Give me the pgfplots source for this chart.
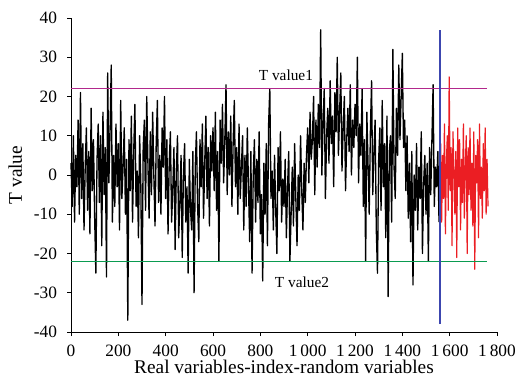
\documentclass[border=0pt]{standalone}
\usepackage{fontspec}
\setmainfont{Liberation Serif}
\usepackage{pgfplots}
\pgfplotsset{compat=1.18}
\definecolor{tpurple}{RGB}{178,40,140}
\definecolor{tgreen}{RGB}{10,155,80}
\definecolor{tblue}{RGB}{60,70,175}
\definecolor{tred}{RGB}{235,30,35}
\begin{document}
\begin{tikzpicture}
\begin{axis}[
  name=ax,
  scale only axis,
  width=319.5pt, height=235.5pt,
  xmin=0, xmax=1800, ymin=-40, ymax=40,
  axis x line=bottom, axis y line=left,
  axis line style={-, line width=0.6pt},
  tick align=outside, major tick length=3pt,
  tick style={black, line width=0.6pt},
  xtick={0,200,...,1800}, ytick={-40,-30,...,40},
  /pgf/number format/assume math mode=true,
  /pgf/number format/1000 sep={\,},
  tick label style={font=\fontsize{13}{14}\selectfont},
  xticklabel style={yshift=-3pt},
  yticklabel style={xshift=-4pt},
  label style={font=\fontsize{14.5}{15}\selectfont},
  xlabel={Real variables-index-random variables},
  ylabel={T value},
  xlabel style={yshift=4pt},
  ylabel style={yshift=2pt},
  clip=false,
]
\addplot[black, line width=1pt, line join=round] coordinates {
(0,3)(5,-8)(10,10)(15,-12)(20,5)(25,-3)(30,14)(35,-10)(40,21)(45,-6)(50,8)(55,-14)(60,2)(65,12)(70,-9)(75,6)(80,-15)(85,17)(90,-4)(95,9)
(100,-11)(105,-25)(110,4)(115,13)(120,-7)(125,10)(130,-18)(135,16)(140,-5)(145,7)(150,-26)(155,26)(160,-2)(165,11)(170,28)(175,-12)(180,5)(185,-8)(190,13)(195,-3)
(200,8)(205,-14)(210,19)(215,-6)(220,2)(225,12)(230,-10)(235,4)(240,-37)(245,9)(250,-4)(255,15)(260,-12)(265,6)(270,18)(275,-8)(280,1)(285,-16)(290,10)(295,-2)
(300,-33)(305,7)(310,14)(315,-9)(320,20)(325,3)(330,-11)(335,11)(340,-5)(345,16)(350,0)(355,-13)(360,8)(365,19)(370,-7)(375,5)(380,-10)(385,12)(390,2)(395,20)
(400,-6)(405,9)(410,-15)(415,3)(420,11)(425,-12)(430,-4)(435,7)(440,-19)(445,1)(450,10)(455,-16)(460,-7)(465,5)(470,-21)(475,0)(480,8)(485,-12)(490,-3)(495,-25)
(500,4)(505,-9)(510,-14)(515,6)(520,-30)(525,2)(530,11)(535,-8)(540,-17)(545,9)(550,-3)(555,13)(560,-11)(565,3)(570,15)(575,-6)(580,7)(585,-13)(590,10)(595,1)
(600,12)(605,-4)(610,16)(615,-9)(620,6)(625,-22)(630,14)(635,3)(640,18)(645,-2)(650,9)(655,23)(660,-5)(665,11)(670,0)(675,15)(680,-8)(685,8)(690,19)(695,-3)
(700,7)(705,-10)(710,13)(715,-6)(720,2)(725,10)(730,-14)(735,5)(740,-8)(745,12)(750,-3)(755,-17)(760,6)(765,-25)(770,0)(775,9)(780,-12)(785,4)(790,-7)(795,11)
(800,-15)(805,-5)(810,-27)(815,3)(820,-10)(825,8)(830,-18)(835,13)(840,22)(845,-6)(850,1)(855,-14)(860,5)(865,-9)(870,-20)(875,7)(880,-4)(885,11)(890,-12)(895,-1)
(900,-8)(905,4)(910,-16)(915,-3)(920,6)(925,-22)(930,-10)(935,2)(940,-13)(945,8)(950,-6)(955,-18)(960,0)(965,-9)(970,10)(975,-4)(980,-14)(985,3)(990,-7)(995,5)
(1000,12)(1005,-2)(1010,16)(1015,4)(1020,9)(1025,20)(1030,-5)(1035,14)(1040,2)(1045,18)(1050,7)(1055,37)(1060,0)(1065,13)(1070,22)(1075,-6)(1080,10)(1085,17)(1090,3)(1095,24)
(1100,8)(1105,15)(1110,-3)(1115,21)(1120,11)(1125,30)(1130,5)(1135,16)(1140,26)(1145,1)(1150,12)(1155,20)(1160,-4)(1165,9)(1170,17)(1175,6)(1180,23)(1185,0)(1190,14)(1195,7)
(1200,18)(1205,10)(1210,30)(1215,-2)(1220,13)(1225,5)(1230,22)(1235,-8)(1240,9)(1245,-22)(1250,16)(1255,3)(1260,-10)(1265,11)(1270,24)(1275,-5)(1280,6)(1285,14)(1290,-14)(1295,-25)
(1300,4)(1305,12)(1310,-9)(1315,19)(1320,-3)(1325,8)(1330,-16)(1335,15)(1340,-31)(1345,6)(1350,10)(1355,-12)(1360,32)(1365,2)(1370,-6)(1375,17)(1380,5)(1385,28)(1390,9)(1395,20)
(1400,31)(1405,7)(1410,14)(1415,-4)(1420,10)(1425,-11)(1430,3)(1435,-17)(1440,6)(1445,-28)(1450,0)(1455,-9)(1460,8)(1465,-14)(1470,2)(1475,-6)(1480,11)(1485,-20)(1490,-2)(1495,5)
(1500,-10)(1505,3)(1510,-22)(1515,7)(1520,-5)(1525,9)(1530,23)(1535,-8)(1540,2)(1545,-3)(1550,6)(1555,-12)
};
\addplot[color=tred, line width=0.9pt, line join=round] coordinates {
(1558,-2)(1562,8)(1566,-12)(1570,5)(1574,-6)(1578,13)(1582,-15)(1586,3)(1590,10)(1594,-9)
(1598,25)(1602,-4)(1606,7)(1610,-18)(1614,11)(1618,1)(1622,-10)(1626,6)(1630,-21)(1634,12)
(1638,-3)(1642,9)(1646,-14)(1650,4)(1654,-7)(1658,13)(1662,-11)(1666,2)(1670,10)(1674,-20)
(1678,7)(1682,-5)(1686,12)(1690,-9)(1694,3)(1698,-13)(1702,11)(1706,-24)(1710,5)(1714,-2)
(1718,9)(1722,-16)(1726,13)(1730,-6)(1734,2)(1738,-11)(1742,8)(1746,-4)(1750,12)(1754,-10)
(1758,4)(1762,-8)
};
\addplot[draw=tpurple, line width=1.1pt] coordinates {(0,22)(1757,22)};
\addplot[draw=tgreen, line width=1.2pt] coordinates {(0,-22)(1757,-22)};
\addplot[draw=tblue, line width=1.1pt] coordinates {(1559,-38)(1559,37)};
\node[font=\fontsize{11.5}{12}\selectfont] at (axis cs:908,25.3) {T value1};
\node[font=\fontsize{11.5}{12}\selectfont] at (axis cs:976,-27.3) {T value2};
\end{axis}
\pgfresetboundingbox
\useasboundingbox ([shift={(-53.25pt,-39.75pt)}]ax.south west) rectangle ([shift={(17.25pt,13.5pt)}]ax.north east);
\end{tikzpicture}
\end{document}
